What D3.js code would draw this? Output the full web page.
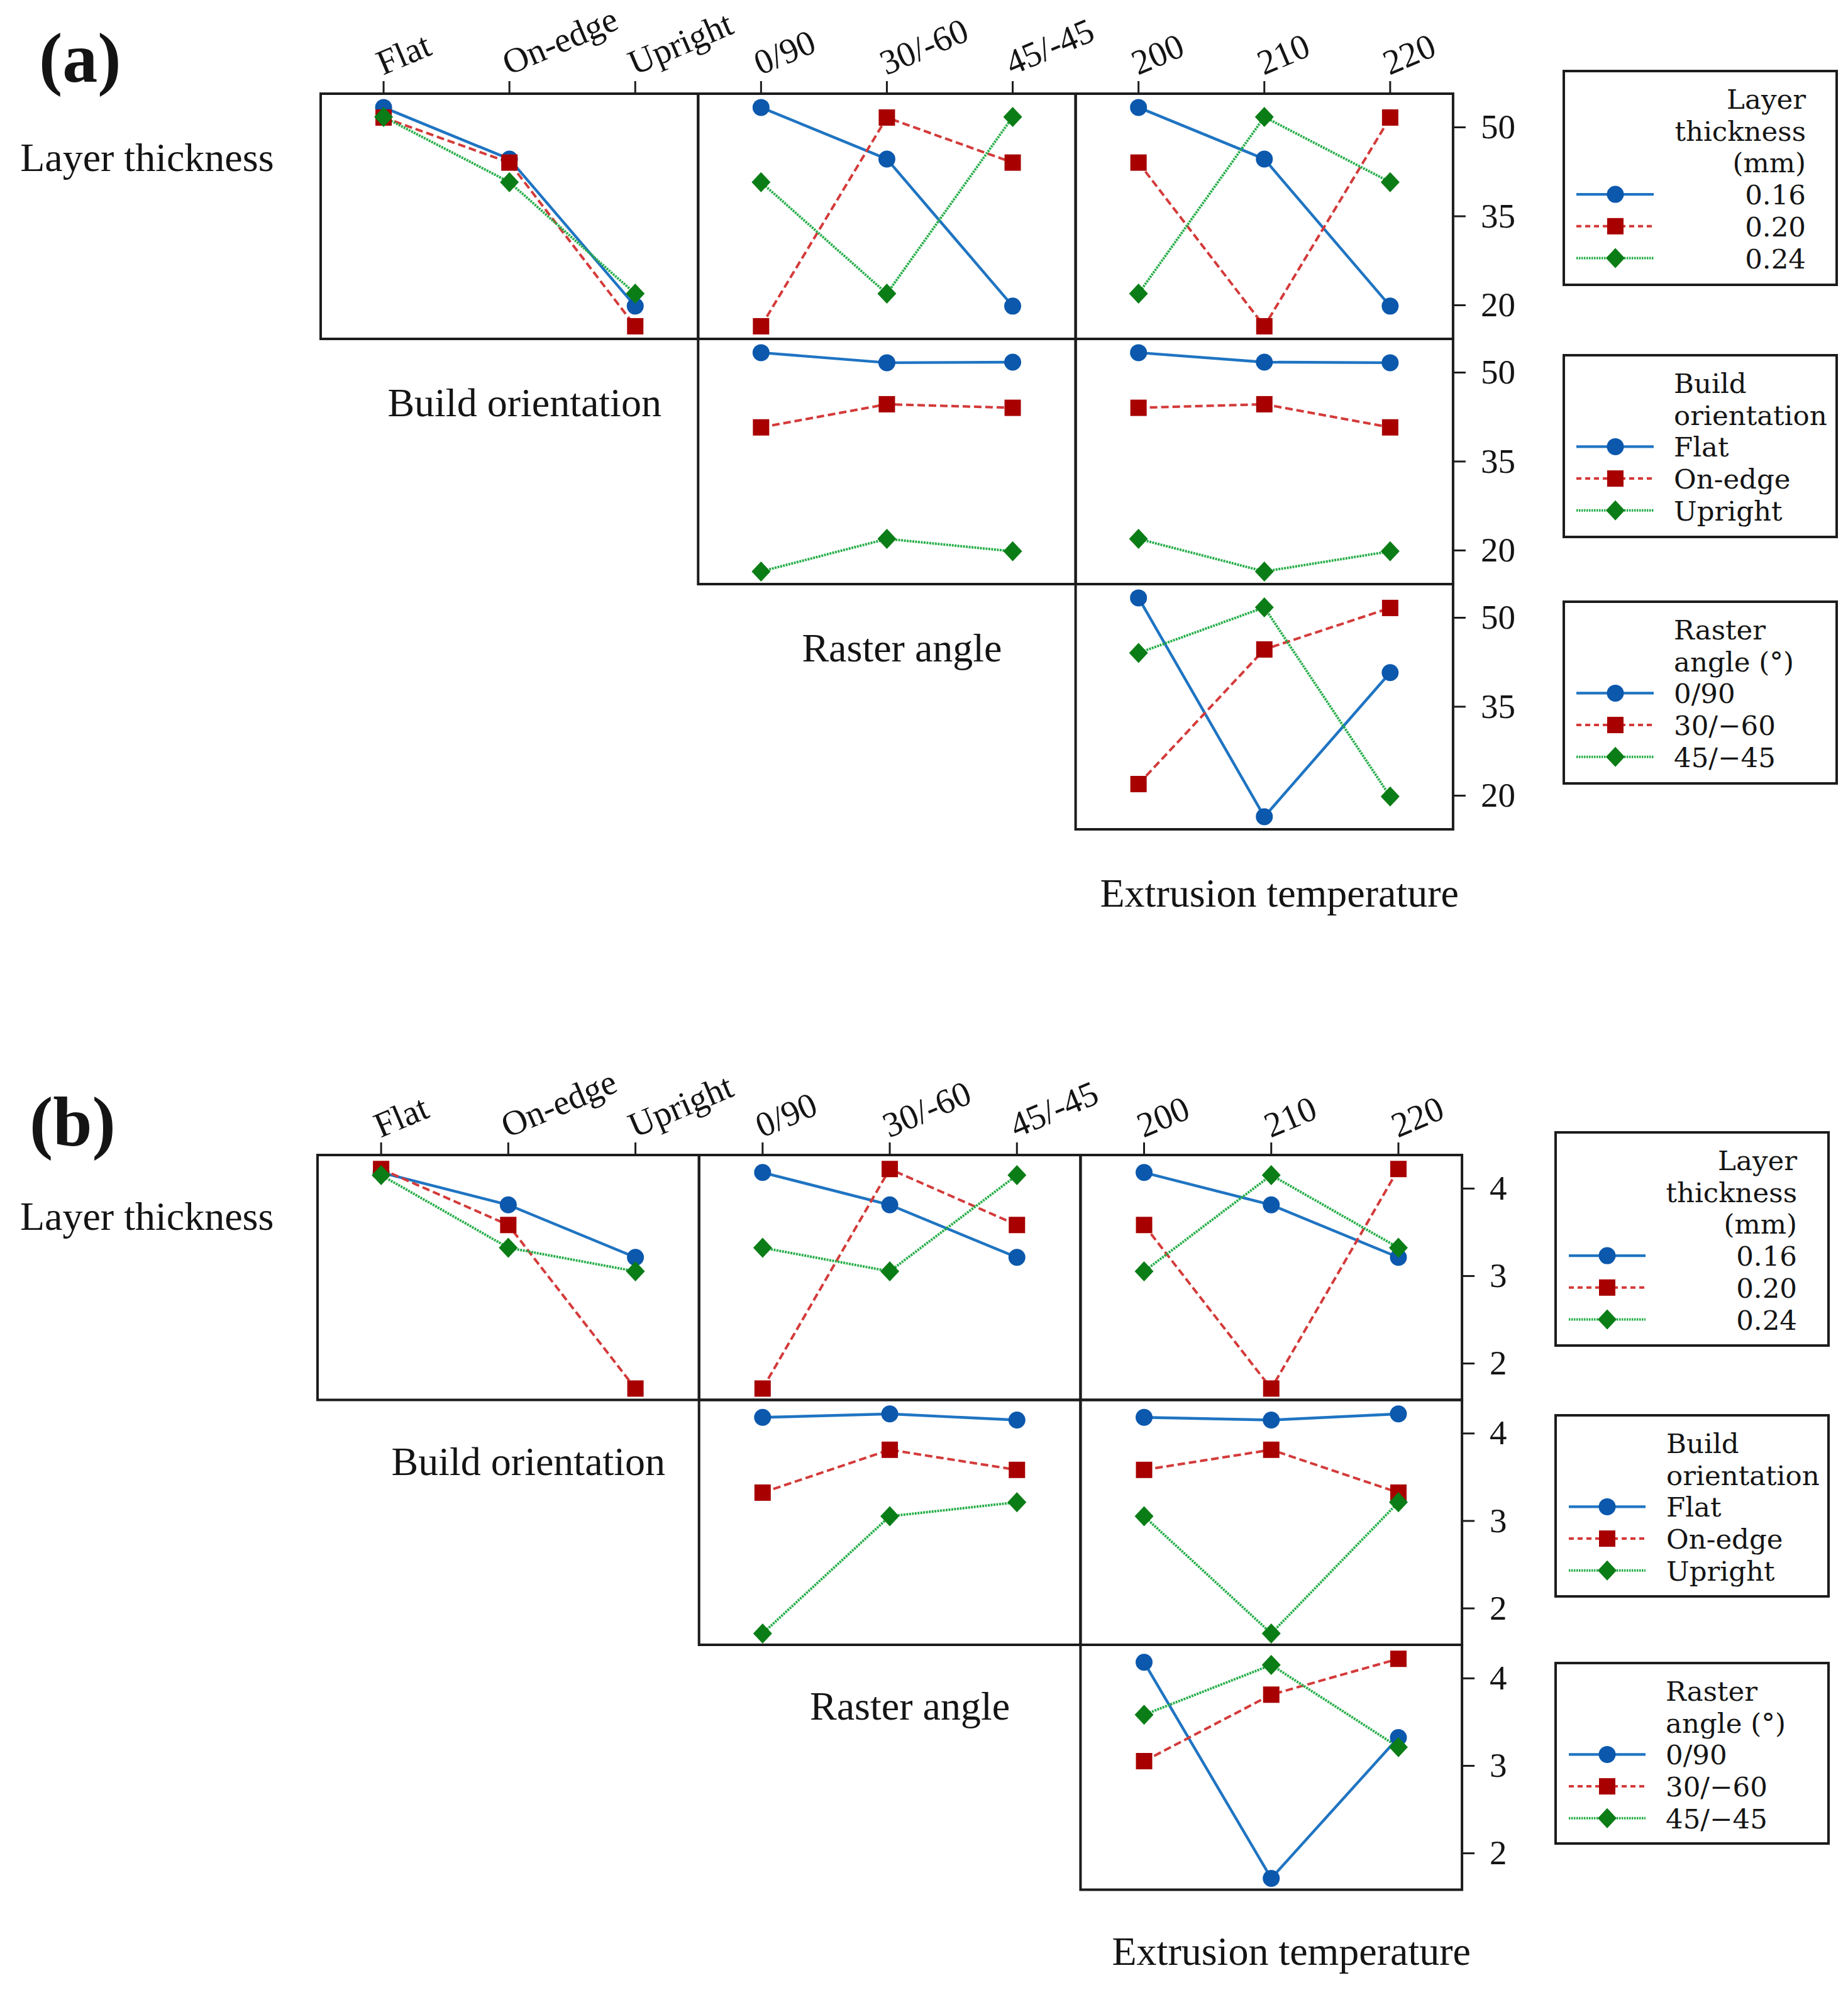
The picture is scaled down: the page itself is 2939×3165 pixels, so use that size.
<!DOCTYPE html>
<html><head><meta charset="utf-8">
<script src="https://cdn.jsdelivr.net/npm/d3@7"></script>
<style>
body{margin:0;background:#fff}
svg{display:block}
text{font-family:"Liberation Serif","Times New Roman",serif;fill:#141414}
text.leg{font-family:"DejaVu Serif","Liberation Serif",serif}
</style>
</head><body>
<svg id="chart" width="2939" height="3165"></svg>
<script>
// ---------------- data ----------------
const factorNames = ["Layer thickness", "Build orientation", "Raster angle", "Extrusion temperature"];
const factorLevels = [
  ["0.16", "0.20", "0.24"],
  ["Flat", "On-edge", "Upright"],
  ["0/90", "30/-60", "45/-45"],
  ["200", "210", "220"]
];
const legendTitles = [["Layer", "thickness", "(mm)"], ["Build", "orientation"], ["Raster", "angle (°)"]];
const legendLabels = [["0.16", "0.20", "0.24"], ["Flat", "On-edge", "Upright"], ["0/90", "30/\u221260", "45/\u221245"]];

// Taguchi L9 runs (factor levels per run)
const runLayer       = ["0.16", "0.16", "0.16", "0.20", "0.20", "0.20", "0.24", "0.24", "0.24"];
const runOrientation = ["Flat", "On-edge", "Upright", "Flat", "On-edge", "Upright", "Flat", "On-edge", "Upright"];
const runRaster      = ["0/90", "30/-60", "45/-45", "30/-60", "45/-45", "0/90", "45/-45", "0/90", "30/-60"];
const runTemp        = ["200", "210", "220", "220", "200", "210", "210", "220", "200"];
// responses
const responseA = [53.3, 44.6, 19.8, 51.6, 44.0, 16.4, 51.7, 40.7, 21.9];
const responseB = [4.18, 3.81, 3.21, 4.22, 3.58, 1.71, 4.15, 3.32, 3.05];

const yTicksA = [20, 35, 50];
const yTicksB = [2, 3, 4];

// ---------------- layout / style ----------------
const runFactors = [runLayer, runOrientation, runRaster, runTemp];
const seriesStyle = [
  {line: "#1f74c2", fill: "#0b58ad", dash: null, legendDash: null, width: 4.4},
  {line: "#d43a3a", fill: "#a80000", dash: "12,6", legendDash: "8,6", width: 4},
  {line: "#25ad48", fill: "#0b7d16", dash: "3,1.5", legendDash: "2.5,1.5", width: 4}
];

const panels = [
  {label: "(a)", values: responseA, yTicks: yTicksA, yDomain: [14.27, 55.62],
   x0: 510, y0: 149, colW: 600.3, rowH: 390,
   letterX: 62, letterY: 130, rowLabelDY: 123, rowLabelDX: 24, tickLabelDY: 29,
   legend: {x1: 2487, x2: 2921, lineX1: 2507, lineX2: 2630, markX: 2569,
            tops: [113, 565, 957], bottoms: [453, 854, 1246],
            textX: [2872, 2662, 2662], anchor: ["end", "start", "start"]}},
  {label: "(b)", values: responseB, yTicks: yTicksB, yDomain: [1.58, 4.38],
   x0: 505, y0: 1837, colW: 606.7, rowH: 389.5,
   letterX: 47, letterY: 1822, rowLabelDY: 119, rowLabelDX: 32, tickLabelDY: 27,
   legend: {x1: 2474, x2: 2908, lineX1: 2495, lineX2: 2617, markX: 2556,
            tops: [1801, 2251, 2645], bottoms: [2140, 2539, 2932],
            textX: [2858, 2650, 2649], anchor: ["end", "start", "start"]}}
];

const svg = d3.select("#chart");
const FRAME = "#1c1c1c";

function drawMarker(g, i, x, y) {
  const s = seriesStyle[i];
  if (i === 0) {
    g.append("circle").attr("cx", x).attr("cy", y).attr("r", 13.5).attr("fill", s.fill);
  } else if (i === 1) {
    g.append("rect").attr("x", x - 13).attr("y", y - 13).attr("width", 26).attr("height", 26).attr("fill", s.fill);
  } else {
    g.append("path").attr("d", `M${x},${y - 16}L${x + 15},${y}L${x},${y + 16}L${x - 15},${y}Z`).attr("fill", s.fill);
  }
}

function cellMean(values, rf, rl, cf, cl) {
  return d3.mean(values.filter((v, k) => runFactors[rf][k] === rl && runFactors[cf][k] === cl));
}

panels.forEach(p => {
  const g = svg.append("g");
  const xRight = p.x0 + 3 * p.colW;

  // panel letter
  g.append("text").attr("x", p.letterX).attr("y", p.letterY)
    .attr("font-size", 112).attr("font-weight", "bold").attr("fill", "#000").text(p.label);

  // row labels (diagonal)
  factorNames.forEach((name, r) => {
    const cx = p.x0 + (r - 1) * p.colW + p.colW / 2 + p.rowLabelDX;
    g.append("text").attr("x", cx).attr("y", p.y0 + r * p.rowH + p.rowLabelDY)
      .attr("text-anchor", "middle").attr("font-size", 64).text(name);
  });

  // cells
  for (let r = 0; r < 3; r++) {
    const yScale = d3.scaleLinear().domain(p.yDomain).range([p.y0 + (r + 1) * p.rowH, p.y0 + r * p.rowH]);
    for (let c = r; c < 3; c++) {
      const cf = c + 1;
      const xScale = d3.scalePoint().domain(factorLevels[cf])
        .range([p.x0 + c * p.colW, p.x0 + (c + 1) * p.colW]).padding(0.5);
      const cell = g.append("g");
      const series = factorLevels[r].map((lvl, i) => ({
        i, pts: factorLevels[cf].map(xl => ({x: xl, v: cellMean(p.values, r, lvl, cf, xl)}))
      }));
      const line = d3.line().x(d => xScale(d.x)).y(d => yScale(d.v));
      series.forEach(s => {
        const st = seriesStyle[s.i];
        cell.append("path").attr("d", line(s.pts)).attr("fill", "none")
          .attr("stroke", st.line).attr("stroke-width", st.width)
          .attr("stroke-dasharray", st.dash);
      });
      series.forEach(s => s.pts.forEach(d => drawMarker(cell, s.i, xScale(d.x), yScale(d.v))));

      // frame
      g.append("rect").attr("x", p.x0 + c * p.colW).attr("y", p.y0 + r * p.rowH)
        .attr("width", p.colW).attr("height", p.rowH)
        .attr("fill", "none").attr("stroke", FRAME).attr("stroke-width", 4);

      // top ticks and labels
      if (r === 0) {
        factorLevels[cf].forEach(lvl => {
          const x = xScale(lvl);
          g.append("line").attr("x1", x).attr("x2", x).attr("y1", p.y0 - 20).attr("y2", p.y0)
            .attr("stroke", FRAME).attr("stroke-width", 3);
          g.append("text").attr("transform", `translate(${x - 1},${p.y0 - p.tickLabelDY}) rotate(-23)`)
            .attr("font-size", 56).text(lvl);
        });
      }
    }
    // right y axis
    const ax = g.append("g").attr("transform", `translate(${xRight},0)`)
      .call(d3.axisRight(yScale).tickValues(p.yTicks).tickFormat(d3.format("d")).tickSize(20).tickPadding(24));
    ax.select(".domain").remove();
    ax.selectAll(".tick line").attr("stroke", FRAME).attr("stroke-width", 3);
    ax.selectAll(".tick text").attr("font-size", 55).attr("fill", "#141414")
      .style("font-family", '"Liberation Serif","Times New Roman",serif');
  }

  // legends
  const L = p.legend;
  for (let r = 0; r < 3; r++) {
    const lg = g.append("g");
    lg.append("rect").attr("x", L.x1).attr("y", L.tops[r]).attr("width", L.x2 - L.x1)
      .attr("height", L.bottoms[r] - L.tops[r]).attr("fill", "none")
      .attr("stroke", FRAME).attr("stroke-width", 4);
    const lines = legendTitles[r].concat(legendLabels[r]);
    const nT = legendTitles[r].length;
    lines.forEach((t, k) => {
      const by = L.tops[r] + 60 + k * 50.7;
      lg.append("text").attr("class", "leg").attr("x", L.textX[r]).attr("y", by).attr("text-anchor", L.anchor[r])
        .attr("font-size", 43.5).text(t);
      if (k >= nT) {
        const i = k - nT, st = seriesStyle[i], my = by - 16;
        lg.append("line").attr("x1", L.lineX1).attr("x2", L.lineX2).attr("y1", my).attr("y2", my)
          .attr("stroke", st.line).attr("stroke-width", st.width).attr("stroke-dasharray", st.legendDash);
        drawMarker(lg, i, L.markX, my);
      }
    });
  }
});
</script>
</body></html>
